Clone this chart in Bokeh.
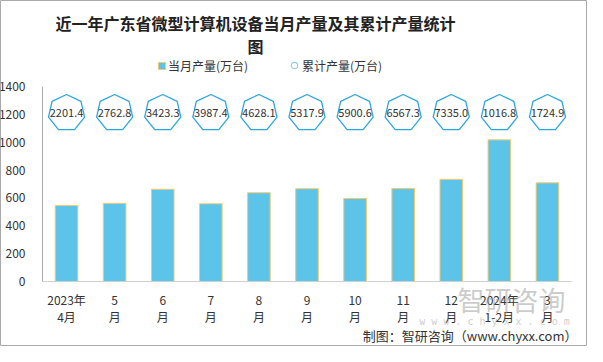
import math
from bokeh.plotting import figure
from bokeh.models import Range1d, FixedTicker, Label, Legend, LegendItem
from bokeh.embed import file_html
from bokeh.resources import INLINE
from bokeh.core.properties import value

# ---------------- data ----------------
categories = ["2023年\n4月", "5\n月", "6\n月", "7\n月", "8\n月", "9\n月",
              "10\n月", "11\n月", "12\n月", "2024年\n1-2月", "3\n月"]
monthly = [545, 561, 662, 558, 637, 666, 596, 667, 733, 1016.8, 708.1]
cumulative = [2201.4, 2762.8, 3423.3, 3987.4, 4628.1, 5317.9, 5900.6,
              6567.3, 7335.0, 1016.8, 1724.9]
y_ticks = [0, 200, 400, 600, 800, 1000, 1200, 1400]

title_line1 = "近一年广东省微型计算机设备当月产量及其累计产量统计"
title_line2 = "图"
legend_monthly = "当月产量(万台)"
legend_cum = "累计产量(万台)"
footer = "制图：智研咨询（www.chyxx.com）"

# ---------------- layout (canvas pixels) ----------------
W, H = 587, 346
AX_L, AX_R, AX_T, AX_B = 42, 571, 86, 281   # axis box inside the canvas
Y_MAX = 1400
MARKER_LEVEL = 1210
R = 18.5
FONT = "Noto Sans CJK SC"
TXT = "#333333"

n = len(categories)
idx = list(range(n))

px_x = (AX_R - AX_L) / n
px_y = (AX_B - AX_T) / Y_MAX
x0, x1 = -0.5 - AX_L / px_x, n - 0.5 + (W - AX_R) / px_x
y0, y1 = -(H - AX_B) / px_y, Y_MAX + AX_T / px_y

p = figure(width=W, height=H, output_backend="svg", toolbar_location=None,
           x_range=Range1d(x0, x1), y_range=Range1d(y0, y1),
           min_border_left=0, min_border_right=0,
           min_border_top=0, min_border_bottom=0)
p.outline_line_color = "#aaaaaa"
p.outline_line_width = 1
p.xgrid.visible = False
p.ygrid.visible = False
p.background_fill_color = "white"
p.border_fill_color = "white"

# axes (fixed inside the frame)
p.yaxis.fixed_location = -0.5
p.yaxis.bounds = (0, Y_MAX)
p.yaxis.ticker = FixedTicker(ticks=y_ticks)
p.yaxis.major_tick_line_color = None
p.yaxis.minor_tick_line_color = None
p.yaxis.axis_line_color = "#aaaaaa"
p.yaxis.major_label_standoff = 11
p.yaxis.major_label_text_font = FONT
p.yaxis.major_label_text_font_size = "12px"
p.yaxis.major_label_text_color = TXT

p.xaxis.fixed_location = 0
p.xaxis.bounds = (-0.5, n - 0.5)
p.xaxis.ticker = FixedTicker(ticks=idx)
p.xaxis.major_label_overrides = {i: c for i, c in zip(idx, categories)}
p.xaxis.major_tick_line_color = None
p.xaxis.minor_tick_line_color = None
p.xaxis.axis_line_color = "#d0d0d0"
p.xaxis.major_label_standoff = 3
p.xaxis.major_label_text_font = FONT
p.xaxis.major_label_text_font_size = "12px"
p.xaxis.major_label_text_color = TXT
p.xaxis.major_label_text_line_height = 1.0

# bars
bars = p.vbar(x=idx, top=monthly, width=0.47, fill_color="#5BC4E8",
              line_color="#F3C96C", line_width=1)

# heptagon markers for cumulative values
rx, ry = R / px_x, R / px_y
angles = [math.pi / 2 + k * 2 * math.pi / 7 for k in range(7)]
xs = [[i + rx * math.cos(a) for a in angles] for i in idx]
ys = [[MARKER_LEVEL + ry * math.sin(a) for a in angles] for i in idx]
p.patches(xs=xs, ys=ys, fill_color="white", line_color="#2BA6DE",
          line_width=1.3)
p.text(x=idx, y=[MARKER_LEVEL] * n, text=[f"{v:.1f}" for v in cumulative],
       text_align="center", text_baseline="middle", text_font=value(FONT),
       text_font_size="11px", text_color=TXT)

# legend-only renderer (circle) with a non-drawn point
circ = p.scatter(x=[float("nan")], y=[float("nan")], marker="circle", size=7,
                 fill_color="white", line_color="#8FD0EE", line_width=1.2)

common = dict(orientation="horizontal", padding=0, margin=0,
              border_line_color=None, background_fill_alpha=0,
              label_text_font=FONT, label_text_font_size="12px",
              label_text_color=TXT, label_height=20)
legend1 = Legend(items=[LegendItem(label=legend_monthly, renderers=[bars])],
                 location=(157, H - 75), glyph_width=9, glyph_height=9,
                 label_standoff=2, **common)
legend2 = Legend(items=[LegendItem(label=legend_cum, renderers=[circ])],
                 location=(286, H - 75), glyph_width=16, glyph_height=16,
                 label_standoff=0, **common)
p.add_layout(legend1)
p.add_layout(legend2)

def slabel(text, cx, cy, size, color=TXT, style="normal", align="center",
           font=FONT, alpha=1.0):
    p.add_layout(Label(x=cx, y=H - cy, x_units="screen", y_units="screen",
                       text=text, text_align=align, text_baseline="middle",
                       text_font=font, text_font_size=size,
                       text_font_style=style, text_color=color,
                       text_alpha=alpha))

slabel(title_line1, 255, 22, "16px", color="#222222", style="bold")
slabel(title_line2, 255, 45, "16px", color="#222222", style="bold")

# watermark
slabel("智研咨询", 511, 299, "27px", color="#9a9a9a", alpha=0.5)
slabel("w w w . c h y x x . c o m", 494, 321, "10px", color="#9a9a9a",
       font="DejaVu Sans Mono", alpha=0.5)
# footer
slabel(footer, 577, 335, "13px", align="right")

open("out.html", "w").write(file_html(p, INLINE))
